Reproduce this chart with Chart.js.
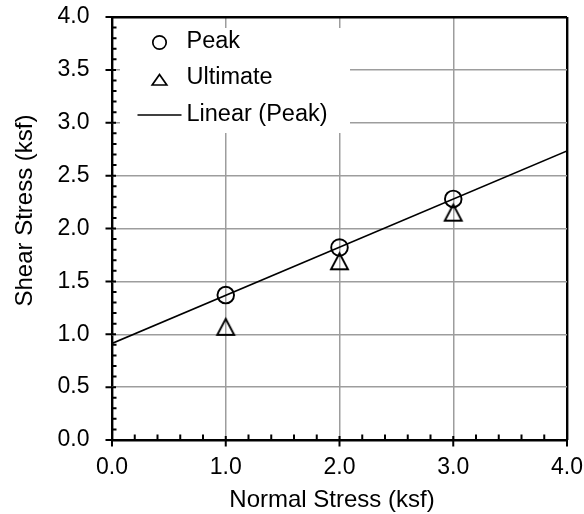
<!DOCTYPE html>
<html>
<head>
<meta charset="utf-8">
<title>Direct Shear Test</title>
<script src="https://cdn.jsdelivr.net/npm/chart.js@4.4.1/dist/chart.umd.min.js"></script>
<style>
  html, body { margin: 0; padding: 0; background: #ffffff; }
  #wrap { width: 584px; height: 514px; position: relative; }
</style>
</head>
<body>
<div id="wrap"><canvas id="shearChart" width="584" height="514"></canvas></div>
<script>
// Test results (ksf)
const normalStress   = [1.0, 2.0, 3.0];
const peakShear      = [1.37, 1.82, 2.28];
const ultimateShear  = [1.07, 1.69, 2.15];

// Extent of the fitted strength envelope along the normal-stress axis
const envelopeRange  = [0.0, 4.0];

// Axis ticks and labels
const xTickValues = [0, 1, 2, 3, 4];
const xTickLabels = ['0.0', '1.0', '2.0', '3.0', '4.0'];
const yTickValues = [0, 0.5, 1, 1.5, 2, 2.5, 3, 3.5, 4];
const yTickLabels = ['0.0', '0.5', '1.0', '1.5', '2.0', '2.5', '3.0', '3.5', '4.0'];

const seriesNames = ['Peak', 'Ultimate', 'Linear (Peak)'];
const xAxisTitle  = 'Normal Stress (ksf)';
const yAxisTitle  = 'Shear Stress (ksf)';

const FONT = "'Liberation Sans', Arial, Helvetica, sans-serif";

// Least-squares line through the peak results
function linearFit(xs, ys) {
  const n = xs.length;
  const mx = xs.reduce((a, b) => a + b, 0) / n;
  const my = ys.reduce((a, b) => a + b, 0) / n;
  let sxy = 0, sxx = 0;
  for (let i = 0; i < n; i++) {
    sxy += (xs[i] - mx) * (ys[i] - my);
    sxx += (xs[i] - mx) * (xs[i] - mx);
  }
  const slope = sxy / sxx;
  return { slope, intercept: my - slope * mx };
}
const peakFit = linearFit(normalStress, peakShear);

// Hollow triangle marker, centred in its own little canvas
function makeTriangle(w, h, lw) {
  const pad = 3;
  const c = document.createElement('canvas');
  c.width = Math.ceil(w + pad * 2);
  c.height = Math.ceil(h + pad * 2);
  const g = c.getContext('2d');
  const cx = c.width / 2, cy = c.height / 2;
  g.strokeStyle = '#000';
  g.lineWidth = lw;
  g.lineJoin = 'miter';
  g.beginPath();
  g.moveTo(cx, cy - h / 2);
  g.lineTo(cx + w / 2, cy + h / 2);
  g.lineTo(cx - w / 2, cy + h / 2);
  g.closePath();
  g.stroke();
  return c;
}
const triangleMarker = makeTriangle(17, 16, 1.9);

// Minor/major tick marks on the left and bottom axes
const axisTicksPlugin = {
  id: 'axisTicks',
  afterDraw(chart) {
    const { ctx, chartArea } = chart;
    const xs = chart.scales.x, ys = chart.scales.y;
    ctx.save();
    ctx.strokeStyle = '#000';
    ctx.lineWidth = 2;
    ctx.beginPath();
    // bottom axis: minor every 0.2
    for (let i = 0; i <= 20; i++) {
      const px = xs.getPixelForValue(i / 5);
      if (i % 5 === 0) {
        ctx.moveTo(px, chartArea.bottom - 4);
        ctx.lineTo(px, chartArea.bottom + 6.5);
      } else {
        ctx.moveTo(px, chartArea.bottom - 5.5);
        ctx.lineTo(px, chartArea.bottom);
      }
    }
    // left axis: minor every 0.1
    for (let i = 0; i <= 40; i++) {
      const py = ys.getPixelForValue(i / 10);
      if (i % 5 === 0) {
        ctx.moveTo(chartArea.left - 6.5, py);
        ctx.lineTo(chartArea.left + 4, py);
      } else {
        ctx.moveTo(chartArea.left, py);
        ctx.lineTo(chartArea.left + 4.5, py);
      }
    }
    ctx.stroke();
    ctx.restore();
  }
};

// Axis titles
const axisTitlesPlugin = {
  id: 'axisTitles',
  afterDraw(chart) {
    const { ctx } = chart;
    ctx.save();
    ctx.fillStyle = '#000';
    ctx.font = '24px ' + FONT;
    ctx.textAlign = 'center';
    ctx.textBaseline = 'alphabetic';
    ctx.fillText(xAxisTitle, 332, 506.5);
    ctx.translate(31.5, 210.5);
    ctx.rotate(-Math.PI / 2);
    ctx.fillText(yAxisTitle, 0, 0);
    ctx.restore();
  }
};

// Legend drawn inside the plot on a white panel
const insideLegendPlugin = {
  id: 'insideLegend',
  afterDatasetsDraw(chart) {
    const { ctx } = chart;
    ctx.save();
    ctx.fillStyle = '#ffffff';
    ctx.fillRect(120, 28, 230, 105);
    ctx.strokeStyle = '#000';
    ctx.fillStyle = '#000';
    ctx.font = '23.5px ' + FONT;
    ctx.textAlign = 'left';
    ctx.textBaseline = 'middle';
    const mx = 159.5;
    chart.data.datasets.forEach((ds, i) => {
      const ry = 42 + i * 36.5;
      ctx.beginPath();
      if (ds.showLine) {
        ctx.lineWidth = 1.6;
        ctx.moveTo(137.5, ry);
        ctx.lineTo(181.5, ry);
      } else if (ds.pointStyle === 'circle') {
        ctx.lineWidth = 1.7;
        ctx.arc(mx, ry + 0.5, 6.7, 0, Math.PI * 2);
      } else {
        ctx.lineWidth = 1.7;
        ctx.moveTo(mx, ry + 1.5 - 5.5);
        ctx.lineTo(mx + 7.3, ry + 1.5 + 5);
        ctx.lineTo(mx - 7.3, ry + 1.5 + 5);
        ctx.closePath();
      }
      ctx.stroke();
      ctx.fillText(ds.label, 186.5, ry - 0.5);
    });
    ctx.restore();
  }
};

const edge = (v, lo, hi) => Math.abs(v - lo) < 1e-9 || Math.abs(v - hi) < 1e-9;

new Chart(document.getElementById('shearChart'), {
  type: 'scatter',
  data: {
    datasets: [
      {
        label: seriesNames[0],
        data: normalStress.map((x, i) => ({ x, y: peakShear[i] })),
        pointStyle: 'circle',
        pointRadius: 8.3,
        pointHoverRadius: 8.3,
        pointBorderWidth: 1.9,
        borderColor: '#000',
        backgroundColor: 'rgba(0,0,0,0)',
        showLine: false
      },
      {
        label: seriesNames[1],
        data: normalStress.map((x, i) => ({ x, y: ultimateShear[i] })),
        pointStyle: triangleMarker,
        pointRadius: 9,
        pointHoverRadius: 9,
        borderColor: '#000',
        backgroundColor: 'rgba(0,0,0,0)',
        showLine: false
      },
      {
        label: seriesNames[2],
        data: envelopeRange.map(x => ({ x, y: peakFit.intercept + peakFit.slope * x })),
        showLine: true,
        pointRadius: 0,
        pointHoverRadius: 0,
        borderColor: '#000',
        borderWidth: 1.6,
        backgroundColor: 'rgba(0,0,0,0)',
        fill: false
      }
    ]
  },
  options: {
    responsive: false,
    animation: false,
    devicePixelRatio: 1,
    events: [],
    layout: { padding: { top: 17, right: 17, left: 0, bottom: 0 } },
    plugins: {
      legend: { display: false },
      tooltip: { enabled: false }
    },
    scales: {
      x: {
        type: 'linear',
        min: 0,
        max: 4,
        afterFit(scale) {
          scale.height = 74;
          scale.paddingLeft = 0;
          scale.paddingRight = 0;
        },
        afterBuildTicks(scale) { scale.ticks = xTickValues.map(v => ({ value: v })); },
        ticks: {
          autoSkip: false,
          maxRotation: 0,
          padding: 14,
          color: '#000',
          font: { family: FONT, size: 23 },
          callback: (v) => xTickLabels[xTickValues.indexOf(v)]
        },
        grid: {
          drawTicks: false,
          color: (c) => edge(c.tick.value, 0, 4) ? '#000000' : '#9d9d9d',
          lineWidth: (c) => edge(c.tick.value, 0, 4) ? 2.4 : 1.5
        },
        border: { display: false }
      },
      y: {
        type: 'linear',
        min: 0,
        max: 4,
        afterFit(scale) {
          scale.width = 112;
          scale.paddingTop = 0;
          scale.paddingBottom = 0;
        },
        afterBuildTicks(scale) { scale.ticks = yTickValues.map(v => ({ value: v })); },
        ticks: {
          autoSkip: false,
          padding: 22.5,
          color: '#000',
          font: { family: FONT, size: 23 },
          callback: (v) => yTickLabels[yTickValues.indexOf(v)]
        },
        grid: {
          drawTicks: false,
          color: (c) => edge(c.tick.value, 0, 4) ? '#000000' : '#9d9d9d',
          lineWidth: (c) => edge(c.tick.value, 0, 4) ? 2.4 : 1.5
        },
        border: { display: false }
      }
    }
  },
  plugins: [insideLegendPlugin, axisTicksPlugin, axisTitlesPlugin]
});
</script>
</body>
</html>
